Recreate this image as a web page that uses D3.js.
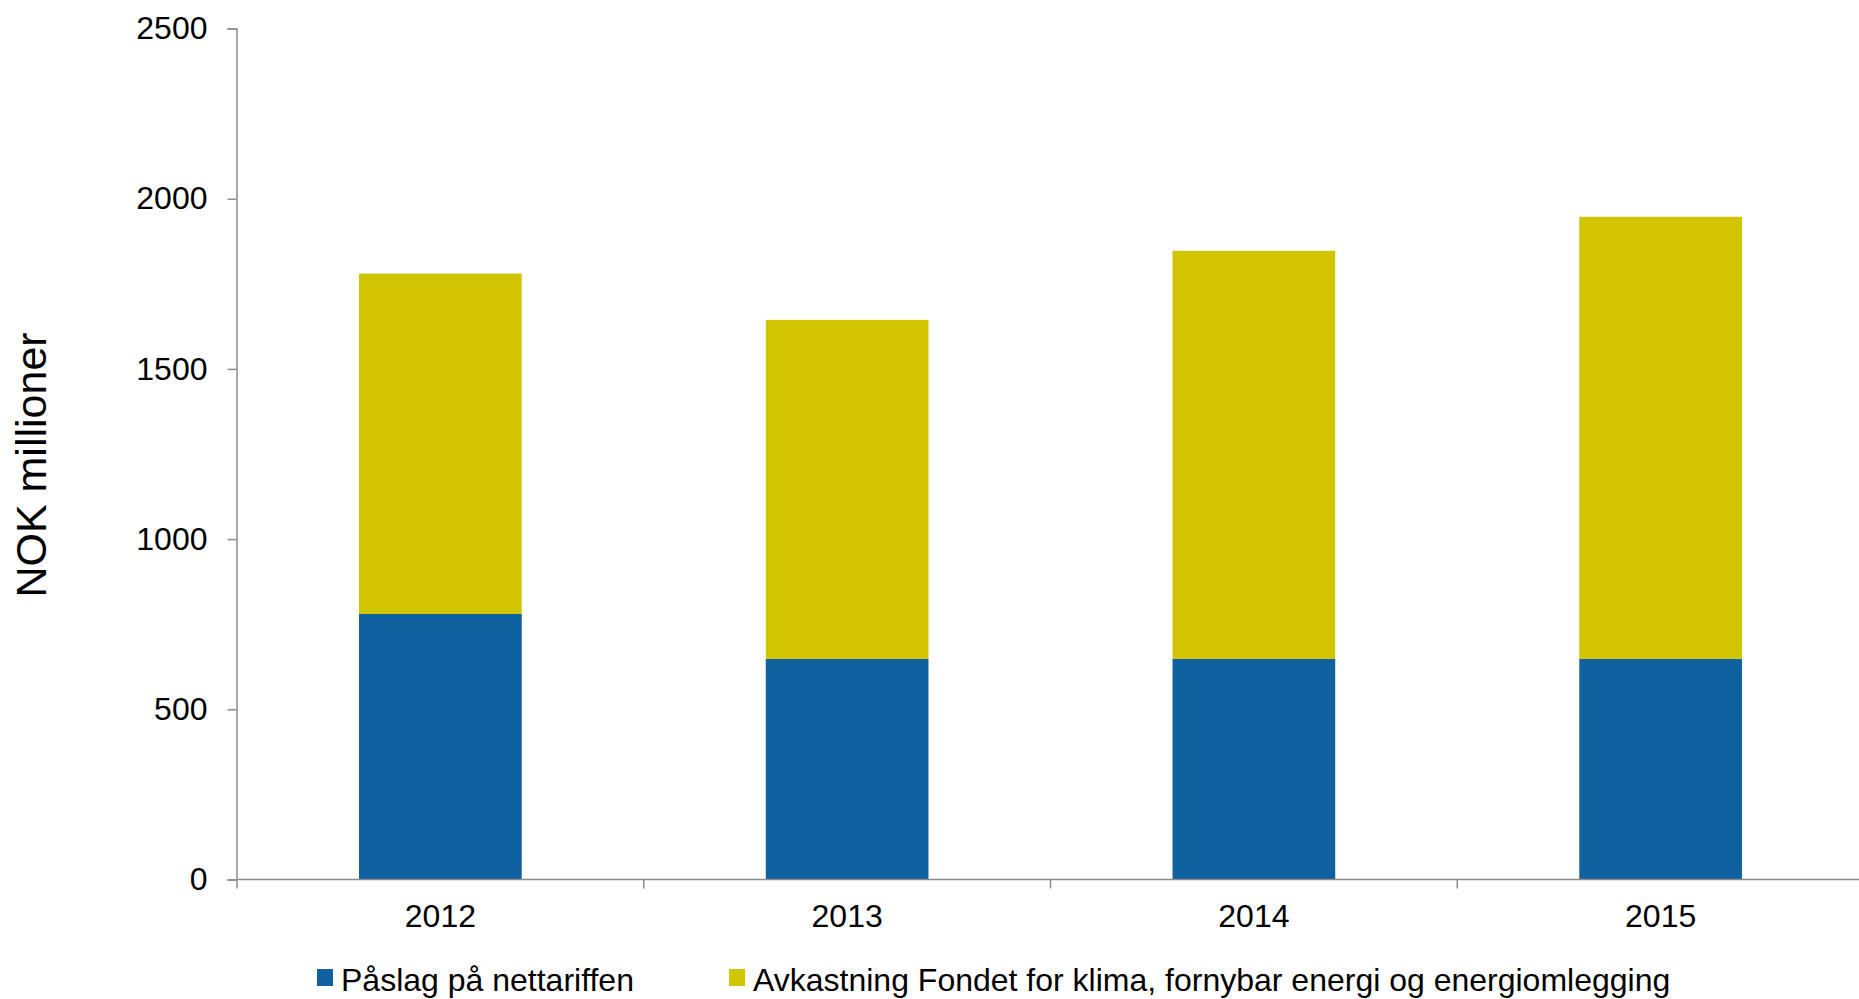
<!DOCTYPE html>
<html>
<head>
<meta charset="utf-8">
<script src="https://cdn.jsdelivr.net/npm/d3@7"></script>
<style>
  html, body { margin: 0; padding: 0; background: #fff; }
  svg { display: block; font-family: "Liberation Sans", Arial, sans-serif; }
</style>
</head>
<body>
<svg id="chart" width="1859" height="999"></svg>
<script>
const categories = ["2012", "2013", "2014", "2015"];
const seriesNames = ["Påslag på nettariffen", "Avkastning Fondet for klima, fornybar energi og energiomlegging"];
const paslag = [780, 648, 648, 648];
const avkastning = [1000, 996, 1199, 1299];
const yTicks = [0, 500, 1000, 1500, 2000, 2500];
const yTitle = "NOK millioner";
const colors = ["#10619F", "#D1C400"];

const svg = d3.select("#chart");
const x = d3.scaleBand().domain(categories).range([237, 1864]).paddingInner(0.6).paddingOuter(0.3);
const y = d3.scaleLinear().domain([0, 2500]).range([879.5, 28.5]);

const rows = categories.map((c, i) => ({ cat: c, s0: paslag[i], s1: avkastning[i] }));
const stack = d3.stack().keys(["s0", "s1"])(rows);

svg.append("g").selectAll("g").data(stack).join("g")
  .attr("fill", (d, i) => colors[i])
  .selectAll("rect").data(d => d).join("rect")
  .attr("x", d => x(d.data.cat))
  .attr("width", x.bandwidth())
  .attr("y", d => y(d[1]))
  .attr("height", d => y(d[0]) - y(d[1]));

const axisColor = "#8C8C8C";
// Y axis
const yAxis = svg.append("g").attr("transform", "translate(236.5,0)")
  .call(d3.axisLeft(y).tickValues(yTicks).tickSize(9).tickPadding(20).tickFormat(d3.format("d")));
yAxis.select(".domain").attr("stroke", axisColor).attr("stroke-width", 1.5);
yAxis.selectAll(".tick line").attr("stroke", axisColor).attr("stroke-width", 1.5);
yAxis.selectAll(".tick text").attr("fill", "#000").style("font-size", "32px")
  .style("font-family", "'Liberation Sans', Arial, sans-serif");

// X axis (ticks at band boundaries)
const step = x.step();
const boundaries = categories.map(c => x(c) - (step - x.bandwidth()) / 2);
const xAxisG = svg.append("g").attr("transform", `translate(0,${y(0)})`);
xAxisG.append("line").attr("x1", x.range()[0]).attr("x2", x.range()[1])
  .attr("stroke", axisColor).attr("stroke-width", 1.5);
xAxisG.selectAll("line.tick").data(boundaries).join("line").attr("class", "tick")
  .attr("x1", d => d).attr("x2", d => d).attr("y1", 0).attr("y2", 9)
  .attr("stroke", axisColor).attr("stroke-width", 1.5);
xAxisG.selectAll("text").data(categories).join("text")
  .attr("x", d => x(d) + x.bandwidth() / 2).attr("y", 47)
  .attr("text-anchor", "middle").attr("fill", "#000").style("font-size", "32px")
  .text(d => d);

// Y title
svg.append("text")
  .attr("transform", "translate(46,465) rotate(-90)")
  .attr("text-anchor", "middle").style("font-size", "43px").attr("fill", "#000")
  .text(yTitle);

// Legend
const legendX = [317, 729];
const lg = svg.append("g");
seriesNames.forEach((n, i) => {
  lg.append("rect").attr("x", legendX[i]).attr("y", 969).attr("width", 16).attr("height", 17).attr("fill", colors[i]);
  lg.append("text").attr("x", legendX[i] + 24).attr("y", 991).style("font-size", "32px").attr("fill", "#000").text(n);
});
</script>
</body>
</html>
